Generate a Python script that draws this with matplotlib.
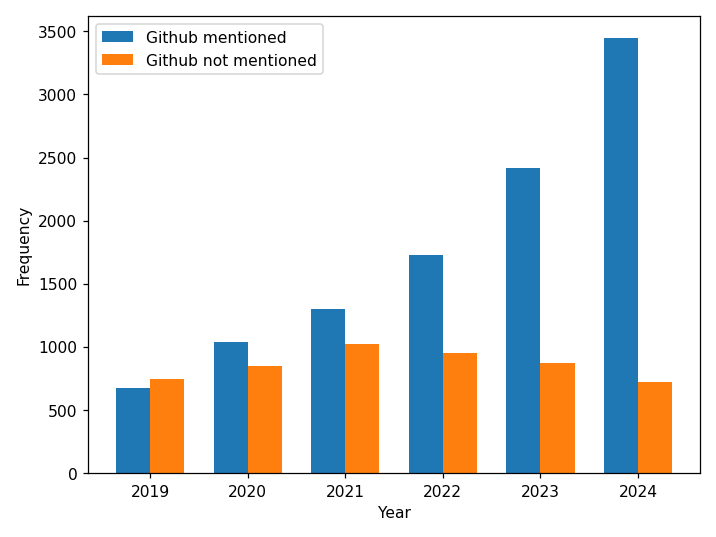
import matplotlib
matplotlib.use("Agg")
import matplotlib.pyplot as plt
import numpy as np

years = ["2019", "2020", "2021", "2022", "2023", "2024"]
mentioned = [674, 1037, 1303, 1727, 2414, 3447]
not_mentioned = [748, 849, 1024, 953, 873, 719]

x = np.arange(len(years))
width = 0.35

fig, ax = plt.subplots(figsize=(6.4, 4.8), dpi=112)
ax.bar(x - width / 2, mentioned, width, label="Github mentioned")
ax.bar(x + width / 2, not_mentioned, width, label="Github not mentioned")
ax.set_xticks(x)
ax.set_xticklabels(years)
ax.set_xlabel("Year")
ax.set_ylabel("Frequency")
ax.legend(loc="upper left")
fig.tight_layout()
fig.savefig("out.png", dpi=112)
